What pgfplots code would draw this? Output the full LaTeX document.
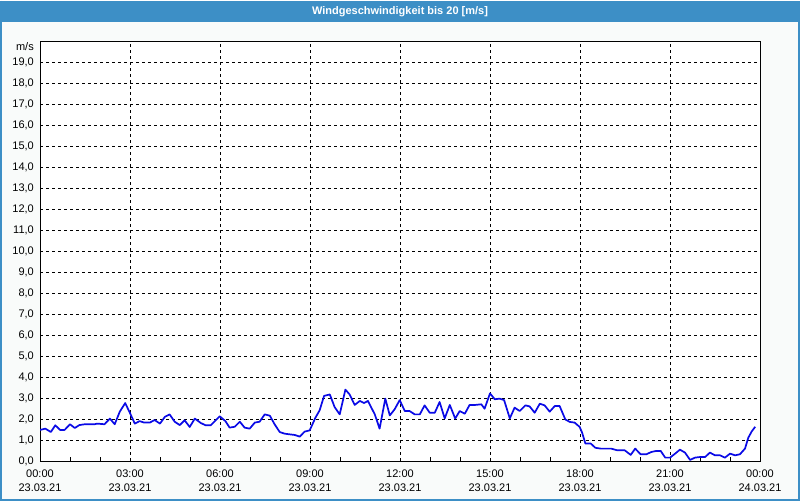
\documentclass[border=0pt]{standalone}
\usepackage{pgfplots}
\pgfplotsset{compat=1.18}
\usepackage{fontspec}
\setmainfont{Liberation Sans}
\definecolor{titlebar}{RGB}{61,143,198}
\definecolor{canvas}{RGB}{249,251,250}
\definecolor{linecol}{RGB}{10,10,230}
\begin{document}
\begin{tikzpicture}[x=1pt,y=1pt]
\fill[canvas] (0,0) rectangle (800,500);
\fill[titlebar] (0,479) rectangle (800,500);
\draw[titlebar, line width=2pt] (1,500) -- (1,1) -- (799,1) -- (799,500);
\node[text=white, font=\fontsize{11}{13}\selectfont\bfseries] at (400,489.5) {Windgeschwindigkeit bis 20 [m/s]};
\begin{axis}[
  at={(40pt,40pt)}, anchor=south west,
  scale only axis, width=720pt, height=420pt,
  xmin=0, xmax=24, ymin=0, ymax=20,
  axis background/.style={fill=white},
  axis line style={black, line width=0.9pt},
  xtick={0,3,...,24},
  xticklabels={{00:00\\23.03.21},{03:00\\23.03.21},{06:00\\23.03.21},{09:00\\23.03.21},{12:00\\23.03.21},{15:00\\23.03.21},{18:00\\23.03.21},{21:00\\23.03.21},{00:00\\24.03.21}},
  minor xtick={1,2,4,5,7,8,10,11,13,14,16,17,19,20,22,23},
  ytick={0,1,...,19},
  yticklabels={{0,0},{1,0},{2,0},{3,0},{4,0},{5,0},{6,0},{7,0},{8,0},{9,0},{10,0},{11,0},{12,0},{13,0},{14,0},{15,0},{16,0},{17,0},{18,0},{19,0}},
  extra y ticks={19.72},
  extra y tick labels={m/s},
  extra y tick style={grid=none},
  major tick length=0pt,
  minor tick length=4pt,
  tick align=inside,
  xtick pos=bottom, ytick pos=left,
  tick style={black, line width=0.8pt},
  xmajorgrids, ymajorgrids,
  major grid style={black, line width=0.8pt, dash pattern=on 3pt off 3pt},
  xticklabel style={align=center, font=\fontsize{11}{14}\selectfont, inner sep=0pt, yshift=-9pt},
  yticklabel style={font=\fontsize{11}{13}\selectfont, inner sep=0pt, xshift=-6pt},
]
\addplot[linecol, line width=1.7pt, line join=round] coordinates {
(0.0,1.48)(0.18,1.54)(0.36,1.38)(0.51,1.70)(0.67,1.48)(0.82,1.48)(1.0,1.75)(1.16,1.57)(1.31,1.71)(1.49,1.75)(1.82,1.75)(1.91,1.78)(2.15,1.75)(2.33,2.02)(2.49,1.75)(2.66,2.35)(2.84,2.76)(3.02,2.22)(3.16,1.78)(3.32,1.90)(3.47,1.83)(3.66,1.83)(3.82,1.95)(4.0,1.78)(4.16,2.10)(4.32,2.22)(4.49,1.87)(4.66,1.71)(4.82,1.94)(4.99,1.62)(5.16,2.02)(5.36,1.81)(5.52,1.70)(5.69,1.70)(5.99,2.13)(6.18,1.90)(6.32,1.59)(6.49,1.63)(6.66,1.87)(6.82,1.59)(6.99,1.54)(7.16,1.83)(7.32,1.87)(7.49,2.22)(7.66,2.16)(7.82,1.75)(7.99,1.38)(8.16,1.30)(8.32,1.27)(8.49,1.24)(8.66,1.16)(8.82,1.40)(8.99,1.46)(9.18,2.06)(9.32,2.41)(9.47,3.10)(9.66,3.17)(9.82,2.57)(9.99,2.22)(10.18,3.40)(10.32,3.17)(10.49,2.67)(10.66,2.86)(10.80,2.76)(10.93,2.86)(11.16,2.22)(11.32,1.54)(11.51,2.97)(11.66,2.17)(11.82,2.46)(11.99,2.90)(12.16,2.38)(12.32,2.38)(12.49,2.22)(12.66,2.22)(12.82,2.65)(12.99,2.30)(13.16,2.30)(13.32,2.81)(13.49,2.03)(13.66,2.67)(13.84,2.02)(13.99,2.38)(14.16,2.25)(14.32,2.67)(14.51,2.67)(14.71,2.70)(14.82,2.49)(15.0,3.22)(15.16,2.94)(15.32,2.97)(15.47,2.90)(15.66,2.03)(15.82,2.54)(15.99,2.38)(16.18,2.65)(16.32,2.60)(16.49,2.30)(16.66,2.73)(16.82,2.65)(16.99,2.35)(17.16,2.62)(17.32,2.62)(17.51,1.98)(17.66,1.86)(17.82,1.83)(17.99,1.62)(18.07,1.35)(18.18,0.83)(18.36,0.83)(18.51,0.63)(18.69,0.59)(19.04,0.59)(19.24,0.51)(19.49,0.51)(19.69,0.29)(19.84,0.59)(20.02,0.32)(20.21,0.32)(20.38,0.43)(20.54,0.48)(20.69,0.48)(20.84,0.16)(21.0,0.16)(21.17,0.35)(21.33,0.54)(21.5,0.40)(21.67,0.05)(21.83,0.16)(22.0,0.19)(22.17,0.19)(22.33,0.40)(22.5,0.27)(22.67,0.27)(22.83,0.16)(23.0,0.35)(23.17,0.27)(23.33,0.32)(23.5,0.59)(23.61,1.11)(23.72,1.40)(23.84,1.63)
};
\end{axis}
\end{tikzpicture}
\end{document}
